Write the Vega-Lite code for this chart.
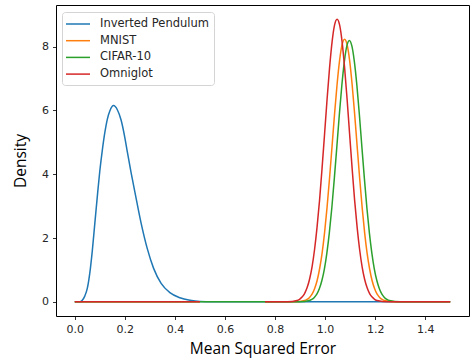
{
  "$schema": "https://vega.github.io/schema/vega-lite/v6.json",
  "width": 413,
  "height": 311,
  "autosize": {"type": "none"},
  "padding": {"left": 56, "top": 5, "right": 7, "bottom": 44},
  "background": "white",
  "config": {
    "view": {"stroke": "#000000", "strokeWidth": 1},
    "axis": {
      "domain": false,
      "grid": false,
      "ticks": true,
      "tickColor": "#000000",
      "tickSize": 3.5,
      "tickWidth": 0.8,
      "labelFont": "DejaVu Sans",
      "labelFontSize": 11,
      "labelColor": "#262626",
      "labelPadding": 4,
      "titleFont": "Open Sans",
      "titleFontSize": 15.5,
      "titleFontWeight": "normal",
      "titleColor": "#000000"
    }
  },
  "data": {
    "values": [
      {"series": "Inverted Pendulum", "x": 0, "y": 0},
      {"series": "Inverted Pendulum", "x": 0.02, "y": 0},
      {"series": "Inverted Pendulum", "x": 0.03, "y": 0.05},
      {"series": "Inverted Pendulum", "x": 0.04, "y": 0.18},
      {"series": "Inverted Pendulum", "x": 0.05, "y": 0.42},
      {"series": "Inverted Pendulum", "x": 0.06, "y": 0.9},
      {"series": "Inverted Pendulum", "x": 0.07, "y": 1.6},
      {"series": "Inverted Pendulum", "x": 0.08, "y": 2.45},
      {"series": "Inverted Pendulum", "x": 0.09, "y": 3.3},
      {"series": "Inverted Pendulum", "x": 0.1, "y": 4.1},
      {"series": "Inverted Pendulum", "x": 0.11, "y": 4.75},
      {"series": "Inverted Pendulum", "x": 0.12, "y": 5.3},
      {"series": "Inverted Pendulum", "x": 0.13, "y": 5.72},
      {"series": "Inverted Pendulum", "x": 0.14, "y": 5.98},
      {"series": "Inverted Pendulum", "x": 0.155, "y": 6.15},
      {"series": "Inverted Pendulum", "x": 0.17, "y": 6.02},
      {"series": "Inverted Pendulum", "x": 0.185, "y": 5.7},
      {"series": "Inverted Pendulum", "x": 0.2, "y": 5.15},
      {"series": "Inverted Pendulum", "x": 0.21, "y": 4.7},
      {"series": "Inverted Pendulum", "x": 0.225, "y": 4.05},
      {"series": "Inverted Pendulum", "x": 0.24, "y": 3.45},
      {"series": "Inverted Pendulum", "x": 0.265, "y": 2.47},
      {"series": "Inverted Pendulum", "x": 0.29, "y": 1.66},
      {"series": "Inverted Pendulum", "x": 0.315, "y": 1.05},
      {"series": "Inverted Pendulum", "x": 0.345, "y": 0.58},
      {"series": "Inverted Pendulum", "x": 0.38, "y": 0.29},
      {"series": "Inverted Pendulum", "x": 0.42, "y": 0.13},
      {"series": "Inverted Pendulum", "x": 0.46, "y": 0.05},
      {"series": "Inverted Pendulum", "x": 0.5, "y": 0.01},
      {"series": "Inverted Pendulum", "x": 0.55, "y": 0},
      {"series": "Inverted Pendulum", "x": 1.5, "y": 0},

      {"series": "MNIST", "x": 0, "y": 0},
      {"series": "MNIST", "x": 0.5, "y": 0},
      {"series": "MNIST", "x": 0.6, "y": null},
      {"series": "MNIST", "x": 0.76, "y": 0},
      {"series": "MNIST", "x": 0.88, "y": 0},
      {"series": "MNIST", "x": 0.918, "y": 0.04},
      {"series": "MNIST", "x": 0.928, "y": 0.076},
      {"series": "MNIST", "x": 0.938, "y": 0.14},
      {"series": "MNIST", "x": 0.948, "y": 0.24},
      {"series": "MNIST", "x": 0.958, "y": 0.41},
      {"series": "MNIST", "x": 0.968, "y": 0.66},
      {"series": "MNIST", "x": 0.978, "y": 1.03},
      {"series": "MNIST", "x": 0.988, "y": 1.52},
      {"series": "MNIST", "x": 0.998, "y": 2.17},
      {"series": "MNIST", "x": 1.008, "y": 2.97},
      {"series": "MNIST", "x": 1.018, "y": 3.89},
      {"series": "MNIST", "x": 1.028, "y": 4.89},
      {"series": "MNIST", "x": 1.038, "y": 5.9},
      {"series": "MNIST", "x": 1.048, "y": 6.82},
      {"series": "MNIST", "x": 1.058, "y": 7.57},
      {"series": "MNIST", "x": 1.068, "y": 8.06},
      {"series": "MNIST", "x": 1.078, "y": 8.23},
      {"series": "MNIST", "x": 1.088, "y": 8.06},
      {"series": "MNIST", "x": 1.098, "y": 7.57},
      {"series": "MNIST", "x": 1.108, "y": 6.82},
      {"series": "MNIST", "x": 1.118, "y": 5.9},
      {"series": "MNIST", "x": 1.128, "y": 4.89},
      {"series": "MNIST", "x": 1.138, "y": 3.89},
      {"series": "MNIST", "x": 1.148, "y": 2.97},
      {"series": "MNIST", "x": 1.158, "y": 2.17},
      {"series": "MNIST", "x": 1.168, "y": 1.52},
      {"series": "MNIST", "x": 1.178, "y": 1.03},
      {"series": "MNIST", "x": 1.188, "y": 0.66},
      {"series": "MNIST", "x": 1.198, "y": 0.41},
      {"series": "MNIST", "x": 1.208, "y": 0.24},
      {"series": "MNIST", "x": 1.218, "y": 0.14},
      {"series": "MNIST", "x": 1.228, "y": 0.076},
      {"series": "MNIST", "x": 1.238, "y": 0.04},
      {"series": "MNIST", "x": 1.28, "y": 0},
      {"series": "MNIST", "x": 1.5, "y": 0},

      {"series": "CIFAR-10", "x": 0, "y": 0},
      {"series": "CIFAR-10", "x": 0.9, "y": 0},
      {"series": "CIFAR-10", "x": 0.937, "y": 0.04},
      {"series": "CIFAR-10", "x": 0.947, "y": 0.075},
      {"series": "CIFAR-10", "x": 0.957, "y": 0.14},
      {"series": "CIFAR-10", "x": 0.967, "y": 0.24},
      {"series": "CIFAR-10", "x": 0.977, "y": 0.41},
      {"series": "CIFAR-10", "x": 0.987, "y": 0.66},
      {"series": "CIFAR-10", "x": 0.997, "y": 1.02},
      {"series": "CIFAR-10", "x": 1.007, "y": 1.52},
      {"series": "CIFAR-10", "x": 1.017, "y": 2.16},
      {"series": "CIFAR-10", "x": 1.027, "y": 2.95},
      {"series": "CIFAR-10", "x": 1.037, "y": 3.87},
      {"series": "CIFAR-10", "x": 1.047, "y": 4.86},
      {"series": "CIFAR-10", "x": 1.057, "y": 5.87},
      {"series": "CIFAR-10", "x": 1.067, "y": 6.79},
      {"series": "CIFAR-10", "x": 1.077, "y": 7.53},
      {"series": "CIFAR-10", "x": 1.087, "y": 8.02},
      {"series": "CIFAR-10", "x": 1.097, "y": 8.19},
      {"series": "CIFAR-10", "x": 1.107, "y": 8.02},
      {"series": "CIFAR-10", "x": 1.117, "y": 7.53},
      {"series": "CIFAR-10", "x": 1.127, "y": 6.79},
      {"series": "CIFAR-10", "x": 1.137, "y": 5.87},
      {"series": "CIFAR-10", "x": 1.147, "y": 4.86},
      {"series": "CIFAR-10", "x": 1.157, "y": 3.87},
      {"series": "CIFAR-10", "x": 1.167, "y": 2.95},
      {"series": "CIFAR-10", "x": 1.177, "y": 2.16},
      {"series": "CIFAR-10", "x": 1.187, "y": 1.52},
      {"series": "CIFAR-10", "x": 1.197, "y": 1.02},
      {"series": "CIFAR-10", "x": 1.207, "y": 0.66},
      {"series": "CIFAR-10", "x": 1.217, "y": 0.41},
      {"series": "CIFAR-10", "x": 1.227, "y": 0.24},
      {"series": "CIFAR-10", "x": 1.237, "y": 0.14},
      {"series": "CIFAR-10", "x": 1.247, "y": 0.075},
      {"series": "CIFAR-10", "x": 1.257, "y": 0.04},
      {"series": "CIFAR-10", "x": 1.3, "y": 0},
      {"series": "CIFAR-10", "x": 1.5, "y": 0},

      {"series": "Omniglot", "x": 0, "y": 0},
      {"series": "Omniglot", "x": 0.5, "y": 0},
      {"series": "Omniglot", "x": 0.6, "y": null},
      {"series": "Omniglot", "x": 0.76, "y": 0},
      {"series": "Omniglot", "x": 0.85, "y": 0},
      {"series": "Omniglot", "x": 0.888, "y": 0.04},
      {"series": "Omniglot", "x": 0.898, "y": 0.08},
      {"series": "Omniglot", "x": 0.908, "y": 0.15},
      {"series": "Omniglot", "x": 0.918, "y": 0.26},
      {"series": "Omniglot", "x": 0.928, "y": 0.44},
      {"series": "Omniglot", "x": 0.938, "y": 0.71},
      {"series": "Omniglot", "x": 0.948, "y": 1.1},
      {"series": "Omniglot", "x": 0.958, "y": 1.64},
      {"series": "Omniglot", "x": 0.968, "y": 2.34},
      {"series": "Omniglot", "x": 0.978, "y": 3.19},
      {"series": "Omniglot", "x": 0.988, "y": 4.19},
      {"series": "Omniglot", "x": 0.998, "y": 5.26},
      {"series": "Omniglot", "x": 1.008, "y": 6.35},
      {"series": "Omniglot", "x": 1.018, "y": 7.34},
      {"series": "Omniglot", "x": 1.028, "y": 8.15},
      {"series": "Omniglot", "x": 1.038, "y": 8.68},
      {"series": "Omniglot", "x": 1.048, "y": 8.86},
      {"series": "Omniglot", "x": 1.058, "y": 8.68},
      {"series": "Omniglot", "x": 1.068, "y": 8.15},
      {"series": "Omniglot", "x": 1.078, "y": 7.34},
      {"series": "Omniglot", "x": 1.088, "y": 6.35},
      {"series": "Omniglot", "x": 1.098, "y": 5.26},
      {"series": "Omniglot", "x": 1.108, "y": 4.19},
      {"series": "Omniglot", "x": 1.118, "y": 3.19},
      {"series": "Omniglot", "x": 1.128, "y": 2.34},
      {"series": "Omniglot", "x": 1.138, "y": 1.64},
      {"series": "Omniglot", "x": 1.148, "y": 1.1},
      {"series": "Omniglot", "x": 1.158, "y": 0.71},
      {"series": "Omniglot", "x": 1.168, "y": 0.44},
      {"series": "Omniglot", "x": 1.178, "y": 0.26},
      {"series": "Omniglot", "x": 1.188, "y": 0.15},
      {"series": "Omniglot", "x": 1.198, "y": 0.08},
      {"series": "Omniglot", "x": 1.208, "y": 0.04},
      {"series": "Omniglot", "x": 1.25, "y": 0},
      {"series": "Omniglot", "x": 1.5, "y": 0}
    ]
  },
  "mark": {"type": "line", "strokeWidth": 1.5, "interpolate": "monotone", "clip": true},
  "encoding": {
    "x": {
      "field": "x",
      "type": "quantitative",
      "scale": {"domain": [-0.075, 1.575], "nice": false, "zero": false},
      "axis": {"values": [0, 0.2, 0.4, 0.6, 0.8, 1.0, 1.2, 1.4], "format": ".1f", "title": "Mean Squared Error", "titlePadding": 7}
    },
    "y": {
      "field": "y",
      "type": "quantitative",
      "scale": {"domain": [-0.443, 9.303], "nice": false, "zero": false},
      "axis": {"values": [0, 2, 4, 6, 8], "format": "d", "title": "Density", "titlePadding": 13}
    },
    "color": {
      "field": "series",
      "type": "nominal",
      "sort": ["Inverted Pendulum", "MNIST", "CIFAR-10", "Omniglot"],
      "scale": {
        "domain": ["Inverted Pendulum", "MNIST", "CIFAR-10", "Omniglot"],
        "range": ["#1f77b4", "#ff7f0e", "#2ca02c", "#d62728"]
      },
      "legend": {
        "title": null,
        "orient": "none",
        "legendX": 6,
        "legendY": 7,
        "symbolType": "M-2,0H2",
        "symbolSize": 144,
        "symbolStrokeWidth": 1.5,
        "labelFont": "DejaVu Sans",
        "labelFontSize": 11.5,
        "labelColor": "#262626",
        "labelOffset": 15,
        "rowPadding": 3.7,
        "padding": 5,
        "symbolOffset": 4,
        "strokeColor": "#d4d4d4",
        "fillColor": "rgba(255,255,255,0.8)",
        "cornerRadius": 3
      }
    },
    "order": {"field": "x", "type": "quantitative"}
  }
}
